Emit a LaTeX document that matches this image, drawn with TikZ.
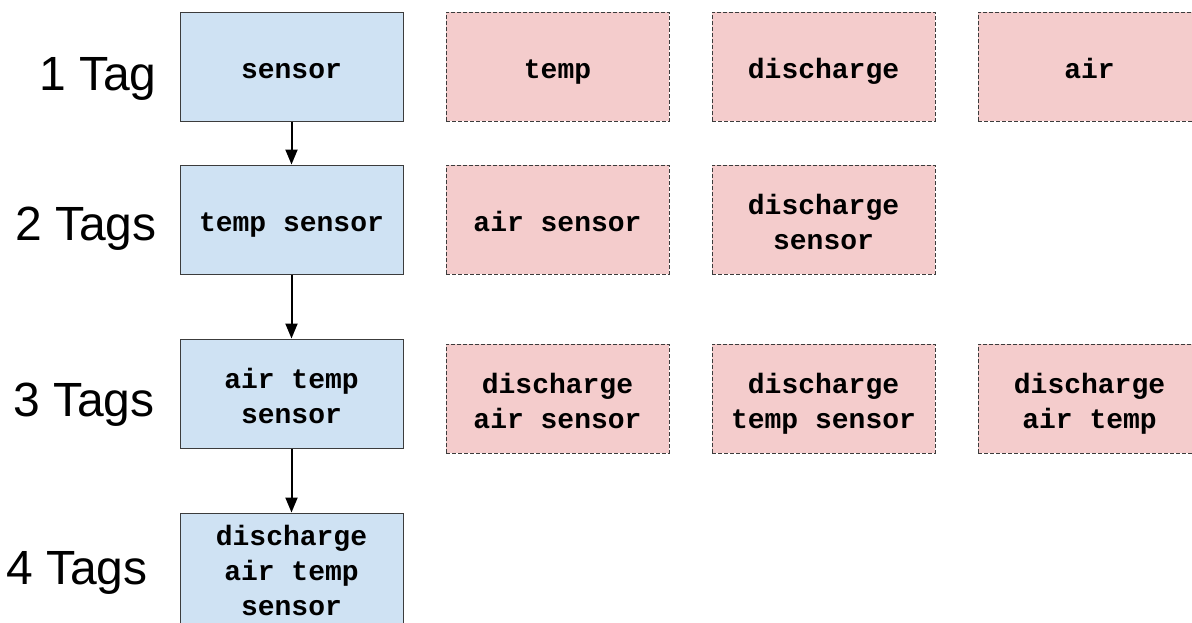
\documentclass[tikz,border=0pt]{standalone}
\usepackage{fontspec}
\newfontfamily\tagfont{Liberation Sans}
\newfontfamily\boxfont{Liberation Mono}
\usetikzlibrary{positioning, arrows.meta}
\definecolor{keepblue}{HTML}{CFE2F3}
\definecolor{droppink}{HTML}{F4CCCC}
\definecolor{edgegray}{HTML}{3C3C3C}

\tikzset{
  keep/.style={draw=edgegray, line width=0.5pt, fill=keepblue,
    minimum width=111.5pt, minimum height=54.5pt, inner xsep=1pt, inner ysep=0pt,
    align=center, font=\boxfont\bfseries\fontsize{14}{17.5}\selectfont,
    text height=15pt, text depth=3.5pt},
  drop/.style={keep, fill=droppink, dash pattern=on 2pt off 1pt},
  twoline/.style={text height=33.5pt},
  threeline/.style={text height=50pt},
  tagcount/.style={anchor=base east, inner sep=0pt,
    font=\tagfont\fontsize{24}{29}\selectfont},
  nextstep/.style={-{Triangle[length=7.5pt,width=6pt]}, line width=1pt}
}

\begin{document}
\begin{tikzpicture}[x=0.5pt, y=-0.5pt]
\path[use as bounding box, clip] (0,0) rectangle (1192,622);
%
% chain of kept tag sets
\node[keep] (b1) at (291.5,66.5) {sensor};
\node[keep, below=21.5pt of b1] (b2) {temp sensor};
\node[keep, twoline, below=32pt of b2] (b3) {air temp\\sensor};
\node[keep, threeline, minimum height=56pt, below=32pt of b3] (b4) {discharge\\air temp\\sensor};
%
% the other tag sets
\node[drop, right=21pt of b1] (p1a) {temp};
\node[drop, right=21pt of p1a] (p1b) {discharge};
\node[drop, right=21pt of p1b] (p1c) {air};
\node[drop, right=21pt of b2] (p2a) {air sensor};
\node[drop, twoline, right=21pt of p2a] (p2b) {discharge\\sensor};
\node[drop, twoline, right=21pt of b3, yshift=-2.5pt] (p3a) {discharge\\air sensor};
\node[drop, twoline, right=21pt of p3a] (p3b) {discharge\\temp sensor};
\node[drop, twoline, right=21pt of p3b] (p3c) {discharge\\air temp};
%
\node[tagcount] (t1) at (157,90) {1 Tag};
\node[tagcount] (t2) at (157,240) {2 Tags};
\node[tagcount] (t3) at (155,416) {3 Tags};
\node[tagcount] (t4) at (148,584) {4 Tags};
%
\foreach \a/\b in {b1/b2, b2/b3, b3/b4}
  \draw[nextstep] (\a) -- (\b);
\end{tikzpicture}
\end{document}
